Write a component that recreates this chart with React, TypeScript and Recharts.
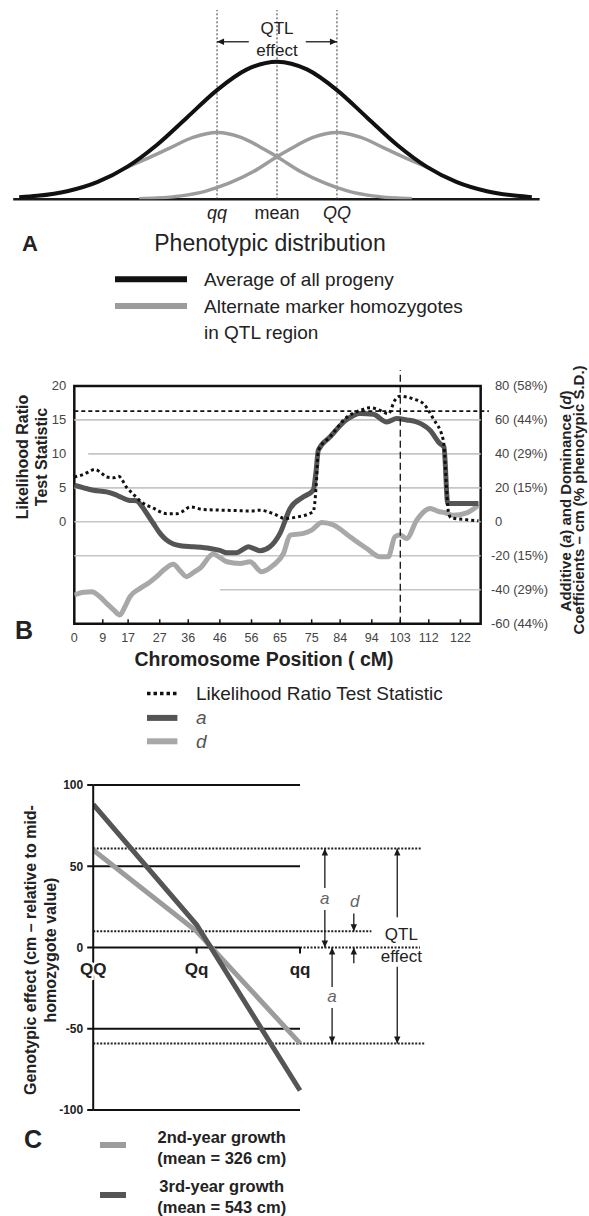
import React from "react"
import {
  ComposedChart,
  LineChart,
  Line,
  XAxis,
  YAxis,
  ReferenceLine,
  ReferenceDot,
  ReferenceArea,
} from "recharts"

const FONT = '"Liberation Sans", Arial, Helvetica, sans-serif'
const INK = "#1a1a1a"
const DARK = "#555555"
const LIGHT = "#9c9c9c"

// ---- Panel A: phenotypic distribution (x in QTL-effect units, y relative height)
const DIST_X = [-4.3, -4, -3.5, -3, -2.5, -2, -1.5, -1, -0.5, 0, 0.5, 1, 1.5, 2, 2.5, 3, 3.5, 4, 4.25]
const DIST_ALL = [0.014, 0.025, 0.059, 0.125, 0.236, 0.397, 0.595, 0.794, 0.944, 1, 0.944, 0.794, 0.595, 0.397, 0.236, 0.125, 0.059, 0.025, 0.015]
const LOW_X = [-2.55, -2.2, -1.8, -1.4, -1, -0.6, -0.2, 0, 0.4, 0.8, 1.2, 1.6, 2, 2.25]
const LOW_Y = [0.225, 0.29, 0.37, 0.45, 0.486, 0.45, 0.36, 0.31, 0.2, 0.117, 0.058, 0.025, 0.009, 0.004]
const HIGH_X = [-2.3, -2, -1.6, -1.2, -0.8, -0.4, 0, 0.2, 0.6, 1, 1.4, 1.8, 2.2, 2.55]
const HIGH_Y = [0.004, 0.009, 0.025, 0.058, 0.117, 0.2, 0.31, 0.36, 0.45, 0.486, 0.45, 0.37, 0.29, 0.225]
const DIST_TICKS = [-1, 0, 1]
const DIST_TICK_LABELS = ["qq", "mean", "QQ"]

// ---- Panel B: QTL scan along the chromosome
const POS_TICKS = [0, 9, 17, 27, 36, 46, 56, 65, 75, 84, 94, 103, 112, 122]
const LR_TICKS = [0, 5, 10, 15, 20]
const EFF_TICKS = [-60, -40, -20, 0, 20, 40, 60, 80]
const EFF_LABELS = ["-60 (44%)", "-40 (29%)", "-20 (15%)", "0", "20 (15%)", "40 (29%)", "60 (44%)", "80 (58%)"]
const GRID_LR = [15, 10, 5, 0, -5, -10]
const GRID_FROM = [0, 4.4, 0, 0, 0, 46]
const LR_THRESHOLD = 16.3
const QTL_PEAK = 103

const LR_POS = [0, 3, 6.5, 8.5, 10.2, 12.5, 14, 16.5, 19, 21, 25, 29.2, 32.4, 34.5, 36.6, 40.8, 48.2, 55.5, 58.7, 62.9, 66.6, 70.3, 75.5, 76.4, 77.1, 80.8, 86.1, 90.3, 93.4, 96.6, 99.2, 101.3, 102.9, 107.1, 110.3, 113.4, 116.6, 118.2, 119, 124, 127.7]
const LR_VAL = [6.6, 7, 7.7, 7.2, 6.6, 6.5, 6.7, 5.1, 3.9, 3, 2, 1.2, 1.2, 1.6, 2.2, 1.8, 1.7, 1.6, 1.7, 1.2, 0.5, 0.7, 1.5, 5.1, 10.5, 12.5, 15.4, 16.4, 16.8, 16.4, 15.9, 17.9, 18.5, 18.1, 17.4, 15.2, 12, 1.5, 0.6, 0.3, 0.15]

const A_POS = [0, 3, 6, 10.2, 13, 15, 17.5, 19.7, 21, 22.9, 25, 27.1, 29, 31.3, 34, 37.6, 42.9, 46, 48.2, 51.3, 53.5, 55, 57, 58.7, 61.8, 65, 68.2, 72.4, 75.5, 76.4, 77.1, 80.8, 86.1, 90.3, 94.5, 98.7, 101.9, 105, 108.2, 112.4, 115.5, 116.8, 118, 127.7]
const A_VAL = [21.6, 20, 18.6, 17.6, 16, 14.3, 12.6, 12.4, 10, 4.9, -1, -6.8, -10.5, -13.1, -14.2, -14.7, -15.7, -16.8, -18.2, -18.2, -16, -14.7, -16, -17, -14.7, -6.8, 7.9, 14.7, 18.6, 30, 42.2, 50, 60.2, 63.8, 63.3, 58.8, 60.8, 60, 58.8, 53.9, 46.1, 44, 10.8, 10.8]

const D_POS = [0, 3, 5.5, 8, 10.2, 12.5, 14.4, 16, 17.6, 20.8, 23.5, 26, 28.5, 31.3, 33.5, 35.5, 37.5, 39.7, 43.9, 46, 48.2, 52.4, 55.5, 59.2, 62.9, 66.1, 68.2, 72.4, 75, 78.2, 81.9, 87.1, 92.4, 96.6, 99.2, 101.3, 102.9, 105, 108.2, 112.4, 115.5, 117, 119.7, 124, 127.7]
const D_VAL = [-43.1, -41.5, -41.2, -44, -48, -52, -54.9, -50, -44.1, -39.2, -36, -32.3, -28, -25, -29, -32.3, -30, -27.4, -19, -21, -23.5, -24.5, -23.5, -29.4, -25.5, -18.6, -7.8, -6.8, -4.9, -0.4, -1.9, -8.8, -15.7, -20.6, -20.6, -8.8, -7.8, -9.8, 1, 7.9, 5.9, 5.5, 3.9, 5.3, 9.8]

// ---- Panel C: genotypic effects
const GENOTYPES = ["QQ", "Qq", "qq"]
const GENOTYPE_POS = [0, 1, 2]
const GROWTH_2ND = [60, 10, -59]
const GROWTH_3RD = [88, 14, -88]
const EFFECT_TICKS = [-100, -50, 0, 50, 100]
const SOLID_LEVELS = [100, 50, 0, -50, -100]
const DOTTED_LEVELS = [61, 10, 0, -59]
const DOTTED_FROM = [0, 0, 2, 0]
const DOTTED_TO = [3.18, 2.69, 3.16, 3.21]

const toPoints = (xs: number[], ys: number[]) => xs.map((x, i) => ({ x, y: ys[i] }))

function arrowShape(head: "start" | "end") {
  return (p: any) => {
    const { x1, y1, x2, y2 } = p
    const [tx, ty, fx, fy] = head === "start" ? [x1, y1, x2, y2] : [x2, y2, x1, y1]
    const a = Math.atan2(ty - fy, tx - fx)
    const L = 7
    const W = 3.2
    const bx = tx - L * Math.cos(a)
    const by = ty - L * Math.sin(a)
    const pts = `${tx},${ty} ${bx - W * Math.sin(a)},${by + W * Math.cos(a)} ${bx + W * Math.sin(a)},${by - W * Math.cos(a)}`
    return (
      <g>
        <line x1={x1} y1={y1} x2={x2} y2={y2} stroke={INK} strokeWidth={1.3} />
        <polygon points={pts} fill={INK} />
      </g>
    )
  }
}

function textShape(text: string, size: number, extra: Record<string, any> = {}) {
  return (p: any) => (
    <text
      x={p.cx}
      y={p.cy}
      textAnchor="middle"
      dominantBaseline="central"
      fontSize={size}
      fill="#222"
      {...extra}
    >
      {text}
    </text>
  )
}

function renderDistTick(props: any) {
  const { x, y, payload } = props
  const label = DIST_TICK_LABELS[DIST_TICKS.indexOf(payload.value)]
  return (
    <text x={x} y={y + 14} textAnchor="middle" dominantBaseline="central" fontSize={18}
      fontStyle={label === "mean" ? "normal" : "italic"} fill="#222">
      {label}
    </text>
  )
}

function renderPosTick(props: any) {
  const { x, y, payload } = props
  return (
    <text x={x} y={y + 14} textAnchor="middle" dominantBaseline="central" fontSize={12.5} fill="#444">
      {payload.value}
    </text>
  )
}

function renderLrTick(props: any) {
  const { x, y, payload } = props
  return (
    <text x={x - 8} y={y} textAnchor="end" dominantBaseline="central" fontSize={13} fill="#444">
      {payload.value}
    </text>
  )
}

function renderEffTick(props: any) {
  const { x, y, payload } = props
  const label = EFF_LABELS[EFF_TICKS.indexOf(payload.value)]
  return (
    <text x={x + 6} dx={label.startsWith("-") ? -4 : 0} y={y} textAnchor="start"
      dominantBaseline="central" fontSize={13} fill="#444">
      {label}
    </text>
  )
}

function DistributionPanel() {
  return (
    <LineChart width={589} height={232} margin={{ top: 10, right: 49.4, bottom: 0, left: 13.2 }}>
      <XAxis type="number" dataKey="x" domain={[-4.4, 4.38]} allowDataOverflow ticks={DIST_TICKS}
        interval={0} axisLine={false} tickLine={false} tickSize={0} tickMargin={0} height={32.7}
        tick={renderDistTick} />
      <YAxis hide domain={[0, 1.376]} allowDataOverflow />
      <ReferenceLine y={0} stroke={INK} strokeWidth={2.5} />
      {DIST_TICKS.map((t) => (
        <ReferenceLine key={t} x={t} stroke="#333" strokeWidth={1} strokeDasharray="2 2" />
      ))}
      <Line data={toPoints(LOW_X, LOW_Y)} dataKey="y" type="monotone" stroke={LIGHT} strokeWidth={3.5}
        dot={false} isAnimationActive={false} />
      <Line data={toPoints(HIGH_X, HIGH_Y)} dataKey="y" type="monotone" stroke={LIGHT} strokeWidth={3.5}
        dot={false} isAnimationActive={false} />
      <Line data={toPoints(DIST_X, DIST_ALL)} dataKey="y" type="monotone" stroke="#111" strokeWidth={4}
        dot={false} isAnimationActive={false} />
      <ReferenceLine segment={[{ x: -1, y: 1.145 }, { x: -0.47, y: 1.145 }]} shape={arrowShape("start")} />
      <ReferenceLine segment={[{ x: 0.48, y: 1.145 }, { x: 1, y: 1.145 }]} shape={arrowShape("end")} />
      <ReferenceDot x={0} y={1.238} shape={textShape("QTL", 17)} />
      <ReferenceDot x={0} y={1.08} shape={textShape("effect", 17)} />
    </LineChart>
  )
}

function ScanPanel() {
  return (
    <ComposedChart width={589} height={300} margin={{ top: 10, right: 0, bottom: 0, left: 0 }}>
      <XAxis type="number" dataKey="x" domain={[0, 131]} allowDataOverflow ticks={POS_TICKS} interval={0}
        axisLine={false} tickLine={false} tickSize={0} tickMargin={0} height={36.3} tick={renderPosTick} />
      <YAxis yAxisId="lr" domain={[-15, 22.35]} allowDataOverflow ticks={LR_TICKS} interval={0} width={74.3}
        axisLine={false} tickLine={false} tickSize={0} tickMargin={0} tick={renderLrTick} />
      <YAxis yAxisId="eff" orientation="right" domain={[-60, 89.4]} allowDataOverflow ticks={EFF_TICKS}
        interval={0} width={100.1} axisLine={false} tickLine={false} tickSize={0} tickMargin={0}
        tick={renderEffTick} />
      {GRID_LR.map((g, i) => (
        <ReferenceLine key={g} yAxisId="lr" segment={[{ x: GRID_FROM[i], y: g }, { x: 128.4, y: g }]}
          stroke="#c6c6c6" strokeWidth={1.6} />
      ))}
      <Line yAxisId="eff" data={toPoints(D_POS, D_VAL)} dataKey="y" type="monotone" stroke="#a8a8a8"
        strokeWidth={5} dot={false} isAnimationActive={false} />
      <Line yAxisId="eff" data={toPoints(A_POS, A_VAL)} dataKey="y" type="monotone" stroke={DARK}
        strokeWidth={5} dot={false} isAnimationActive={false} />
      <Line yAxisId="lr" data={toPoints(LR_POS, LR_VAL)} dataKey="y" type="monotone" stroke="#111"
        strokeWidth={3} strokeDasharray="3 3" dot={false} isAnimationActive={false} />
      <ReferenceLine yAxisId="lr" segment={[{ x: 0, y: LR_THRESHOLD }, { x: 131, y: LR_THRESHOLD }]}
        stroke="#111" strokeWidth={1.6} strokeDasharray="4 3" />
      <ReferenceLine yAxisId="lr" segment={[{ x: QTL_PEAK, y: -15 }, { x: QTL_PEAK, y: 22.35 }]}
        stroke="#111" strokeWidth={1.3} strokeDasharray="7 4" />
      {POS_TICKS.map((t) => (
        <ReferenceLine key={t} yAxisId="lr" segment={[{ x: t, y: -15 }, { x: t, y: -14.35 }]}
          stroke="#111" strokeWidth={1.5} />
      ))}
      <ReferenceArea yAxisId="lr" x1={0} x2={128.4} y1={-15} y2={20} fill="none" fillOpacity={0}
        stroke="#111" strokeWidth={2.5} />
    </ComposedChart>
  )
}

const genotypeRows = GENOTYPE_POS.map((pos, i) => ({
  pos,
  genotype: GENOTYPES[i],
  y2: GROWTH_2ND[i],
  y3: GROWTH_3RD[i],
}))

function EffectPanel() {
  return (
    <LineChart width={589} height={360} data={genotypeRows} margin={{ top: 25, right: 159.7, bottom: 10, left: 0 }}>
      <XAxis hide type="number" dataKey="pos" domain={[0, 3.25]} allowDataOverflow />
      <YAxis domain={[-100, 100]} ticks={EFFECT_TICKS} interval={0} width={93.2}
        axisLine={{ stroke: "#111", strokeWidth: 2 }} tickLine={{ stroke: "#111", strokeWidth: 2 }}
        tickSize={6} tickMargin={4} tick={{ fontSize: 12, fontWeight: 700, fill: "#222" }} />
      {SOLID_LEVELS.map((v) => (
        <ReferenceLine key={v} segment={[{ x: 0, y: v }, { x: 2, y: v }]} stroke="#111" strokeWidth={2} />
      ))}
      {DOTTED_LEVELS.map((v, i) => (
        <ReferenceLine key={`d${v}`} segment={[{ x: DOTTED_FROM[i], y: v }, { x: DOTTED_TO[i], y: v }]}
          stroke="#222" strokeWidth={2} strokeDasharray="2 1.5" />
      ))}
      {GENOTYPE_POS.slice(1).map((p) => (
        <ReferenceLine key={`t${p}`} segment={[{ x: p, y: 0 }, { x: p, y: -3.7 }]} stroke="#111" strokeWidth={2} />
      ))}
      <Line dataKey="y2" type="linear" stroke={LIGHT} strokeWidth={5} dot={false} isAnimationActive={false} />
      <Line dataKey="y3" type="linear" stroke={DARK} strokeWidth={5} dot={false} isAnimationActive={false} />
      {GENOTYPE_POS.map((p, i) => (
        <ReferenceDot key={`g${p}`} x={p} y={-13.6}
          shape={textShape(GENOTYPES[i], 17, { fontWeight: 700, stroke: "#fff", strokeWidth: 5, paintOrder: "stroke" })} />
      ))}
      <ReferenceLine segment={[{ x: 2.24, y: 61 }, { x: 2.24, y: 36.6 }]} shape={arrowShape("start")} />
      <ReferenceLine segment={[{ x: 2.24, y: 23.1 }, { x: 2.24, y: 0 }]} shape={arrowShape("end")} />
      <ReferenceLine segment={[{ x: 2.31, y: 0 }, { x: 2.31, y: -24.3 }]} shape={arrowShape("start")} />
      <ReferenceLine segment={[{ x: 2.31, y: -37.2 }, { x: 2.31, y: -59 }]} shape={arrowShape("end")} />
      <ReferenceLine segment={[{ x: 2.52, y: 21 }, { x: 2.52, y: 10 }]} shape={arrowShape("end")} />
      <ReferenceLine segment={[{ x: 2.52, y: -9.7 }, { x: 2.52, y: 0 }]} shape={arrowShape("end")} />
      <ReferenceLine segment={[{ x: 2.94, y: 61 }, { x: 2.94, y: 18.6 }]} shape={arrowShape("start")} />
      <ReferenceLine segment={[{ x: 2.94, y: -11.8 }, { x: 2.94, y: -59 }]} shape={arrowShape("end")} />
      <ReferenceDot x={2.24} y={30.3} shape={textShape("a", 17, { fontStyle: "italic", fill: "#666" })} />
      <ReferenceDot x={2.31} y={-30.3} shape={textShape("a", 17, { fontStyle: "italic", fill: "#666" })} />
      <ReferenceDot x={2.53} y={28.2} shape={textShape("d", 17, { fontStyle: "italic", fill: "#666" })} />
      <ReferenceDot x={2.98} y={8.3} shape={textShape("QTL", 17)} />
      <ReferenceDot x={2.98} y={-5.7} shape={textShape("effect", 17)} />
    </LineChart>
  )
}

function Rotated({ x, y, size, children }: { x: number; y: number; size: number; children: React.ReactNode }) {
  return (
    <text transform={`translate(${x},${y}) rotate(-90)`} textAnchor="middle" dominantBaseline="central"
      fontSize={size} fontWeight={700} fill="#222">
      {children}
    </text>
  )
}

function Annotations() {
  const t = { dominantBaseline: "central" as const, fill: "#222" }
  return (
    <svg width={589} height={1216} style={{ position: "absolute", left: 0, top: 0, pointerEvents: "none" }}>
      {/* panel A */}
      <text x={30} y={243} textAnchor="middle" fontSize={22} fontWeight={700} {...t}>A</text>
      <text x={270} y={243} textAnchor="middle" fontSize={23} {...t}>Phenotypic distribution</text>
      <line x1={115} x2={187} y1={279.3} y2={279.3} stroke="#111" strokeWidth={6} />
      <line x1={115} x2={187} y1={306} y2={306} stroke={LIGHT} strokeWidth={6} />
      <text x={204} y={279.3} fontSize={19} {...t}>Average of all progeny</text>
      <text x={204} y={306} fontSize={19} {...t}>Alternate marker homozygotes</text>
      <text x={204} y={332.7} fontSize={19} {...t}>in QTL region</text>

      {/* panel B */}
      <text x={24} y={630} textAnchor="middle" fontSize={25} fontWeight={700} {...t}>B</text>
      <Rotated x={22.6} y={457} size={16}>Likelihood Ratio</Rotated>
      <Rotated x={41.5} y={457} size={16}>Test Statistic</Rotated>
      <Rotated x={565} y={501} size={15}>
        Additive (<tspan fontStyle="italic">a</tspan>) and Dominance (<tspan fontStyle="italic">d</tspan>)
      </Rotated>
      <Rotated x={578.5} y={500} size={15}>Coefficients – cm (% phenotypic S.D.)</Rotated>
      <text x={264} y={659.4} textAnchor="middle" fontSize={19.5} fontWeight={700} {...t}>Chromosome Position ( cM)</text>
      <line x1={147} x2={177.4} y1={693.4} y2={693.4} stroke="#111" strokeWidth={3.5} strokeDasharray="3.5 3" />
      <line x1={147} x2={177.4} y1={717.9} y2={717.9} stroke={DARK} strokeWidth={6} />
      <line x1={147} x2={177.4} y1={741.3} y2={741.3} stroke="#a8a8a8" strokeWidth={6} />
      <text x={196} y={693.4} fontSize={19} {...t}>Likelihood Ratio Test Statistic</text>
      <text x={196} y={717.9} fontSize={19} fontStyle="italic" {...t} fill="#555">a</text>
      <text x={196} y={741.3} fontSize={19} fontStyle="italic" {...t} fill="#555">d</text>

      {/* panel C */}
      <Rotated x={30.5} y={950} size={16}>Genotypic effect (cm  –  relative to mid-</Rotated>
      <Rotated x={50} y={950} size={16}>homozygote value)</Rotated>
      <text x={33} y={1139.3} textAnchor="middle" fontSize={25} fontWeight={700} {...t}>C</text>
      <line x1={100} x2={126} y1={1145} y2={1145} stroke={LIGHT} strokeWidth={6} />
      <line x1={100} x2={126} y1={1195} y2={1195} stroke={DARK} strokeWidth={6} />
      <text x={221.7} y={1136.7} textAnchor="middle" fontSize={16.5} fontWeight={700} {...t}>2nd-year growth</text>
      <text x={221.7} y={1157.7} textAnchor="middle" fontSize={16.5} fontWeight={700} {...t}>(mean = 326 cm)</text>
      <text x={221.7} y={1186} textAnchor="middle" fontSize={16.5} fontWeight={700} {...t}>3rd-year growth</text>
      <text x={221.7} y={1206.7} textAnchor="middle" fontSize={16.5} fontWeight={700} {...t}>(mean = 543 cm)</text>
    </svg>
  )
}

export default function App() {
  return (
    <div style={{ position: "absolute", left: 0, top: 0, width: 589, height: 1216, background: "#fff", fontFamily: FONT }}>
      <div style={{ position: "absolute", left: 0, top: 0 }}>
        <DistributionPanel />
      </div>
      <div style={{ position: "absolute", left: 0, top: 360 }}>
        <ScanPanel />
      </div>
      <div style={{ position: "absolute", left: 0, top: 760 }}>
        <EffectPanel />
      </div>
      <Annotations />
    </div>
  )
}
